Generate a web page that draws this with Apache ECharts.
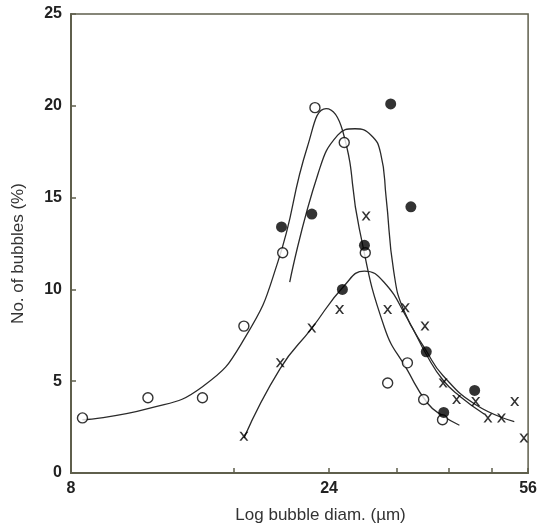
<!DOCTYPE html>
<html>
<head>
<meta charset="utf-8">
<script src="https://cdn.jsdelivr.net/npm/echarts@6/dist/echarts.min.js"></script>
<style>html,body{margin:0;padding:0;background:#fff}#c{width:540px;height:529px}</style>
</head>
<body>
<div id="c"></div>
<script>
// Tick labels (diameters, µm)
const xTickDiam = [8, 16, 24, 32, 40, 48, 56];
const xLabelDiam = [8, 24, 56];

// Open circles
const openDiam = [8.4, 11.1, 14.0, 16.7, 19.7, 22.6, 25.6, 28.0, 30.8, 33.5, 35.9, 38.9];
const openPct  = [3.0, 4.1, 4.1, 8.0, 12.0, 19.9, 18.0, 12.0, 4.9, 6.0, 4.0, 2.9];

// Filled circles
const fillDiam = [19.6, 22.3, 25.4, 27.9, 31.2, 34.0, 36.3, 39.1, 44.6];
const fillPct  = [13.4, 14.1, 10.0, 12.4, 20.1, 14.5, 6.6, 3.3, 4.5];

// Crosses
const crossDiam = [16.7, 19.5, 22.3, 25.1, 28.1, 30.8, 33.2, 36.1, 39.0, 41.3, 44.8, 47.2, 50.0, 52.9, 55.0];
const crossPct  = [2.0, 6.0, 7.9, 8.9, 14.0, 8.9, 9.0, 8.0, 4.9, 4.0, 3.9, 3.0, 3.0, 3.9, 1.9];

// Fitted curves
const curveOpenDiam = [8.4, 11.1, 14.0, 16.8, 19.3, 21.9, 23.7, 25.45, 27.3, 30.4, 33.5, 36.5, 39.0, 41.8];
const curveOpenPct  = [2.9, 3.5, 4.7, 7.4, 11.5, 17.8, 19.85, 18.6, 13.3, 7.9, 5.6, 3.8, 3.1, 2.6];

const curveFillDiam = [20.3, 22.9, 24.9, 26.8, 28.7, 29.9, 30.6, 31.6, 33.0, 36.4, 39.0, 44.9, 52.8];
const curveFillPct  = [10.4, 16.3, 18.4, 18.75, 18.4, 17.4, 15.0, 11.0, 8.85, 6.6, 5.3, 3.7, 2.8];

const curveCrossDiam = [16.7, 19.5, 22.25, 25.6, 27.9, 30.3, 33.5, 36.4, 39.0, 41.8, 46.5];
const curveCrossPct  = [1.9, 5.7, 7.85, 10.2, 11.0, 10.4, 8.4, 6.4, 5.05, 4.2, 3.2];

const LN = Math.log;
const pairs = (xs, ys) => xs.map((x, i) => [LN(x), ys[i]]);

const ink = '#000';
const axisCol = '#5f5f4c';
const crossPath = 'path://M0,0 L2.2,0 L5,3.6 L7.8,0 L10,0 L6.1,5 L10,10 L7.8,10 L5,6.4 L2.2,10 L0,10 L3.9,5 Z';
const curveStyle = {color: '#2a2a2a', width: 1.3};

const chart = echarts.init(document.getElementById('c'), null, {renderer: 'canvas'});
chart.setOption({
  backgroundColor: '#fff',
  animation: false,
  grid: {left: 71, right: 8, top: 14, bottom: 54, show: true, borderColor: axisCol, borderWidth: 1.5, backgroundColor: 'transparent'},
  xAxis: {
    type: 'value',
    min: LN(8), max: LN(56),
    name: 'Log bubble diam. (µm)',
    nameLocation: 'middle',
    nameGap: 34,
    nameTextStyle: {fontSize: 17, color: '#333', fontFamily: 'Liberation Sans, Arial, sans-serif', padding: [0, 0, 0, 42]},
    splitLine: {show: false},
    axisLine: {show: true, lineStyle: {color: axisCol, width: 2}},
    axisTick: {show: true, inside: true, length: 5, customValues: xTickDiam.map(LN), lineStyle: {color: axisCol, width: 1.5}},
    axisLabel: {
      customValues: xLabelDiam.map(LN),
      formatter: v => String(Math.round(Math.exp(v))),
      fontSize: 16, fontWeight: 'bold', color: '#222', margin: 8,
      fontFamily: 'Liberation Sans, Arial, sans-serif'
    }
  },
  yAxis: {
    type: 'value', min: 0, max: 25, interval: 5,
    name: 'No. of bubbles (%)',
    nameLocation: 'middle',
    nameGap: 44,
    nameRotate: 90,
    nameTextStyle: {fontSize: 17, color: '#333', fontFamily: 'Liberation Sans, Arial, sans-serif', padding: [0, 20, 0, 0]},
    splitLine: {show: false},
    axisLine: {show: true, lineStyle: {color: axisCol, width: 2}},
    axisTick: {show: true, inside: true, length: 5, lineStyle: {color: axisCol, width: 1.5}},
    axisLabel: {fontSize: 16, fontWeight: 'bold', color: '#222', margin: 9, fontFamily: 'Liberation Sans, Arial, sans-serif'}
  },
  series: [
    {type: 'line', data: pairs(curveOpenDiam, curveOpenPct), smooth: 0.5, showSymbol: false, lineStyle: curveStyle, z: 2},
    {type: 'line', data: pairs(curveFillDiam, curveFillPct), smooth: 0.5, showSymbol: false, lineStyle: curveStyle, z: 2},
    {type: 'line', data: pairs(curveCrossDiam, curveCrossPct), smooth: 0.5, showSymbol: false, lineStyle: curveStyle, z: 2},
    {type: 'scatter', data: pairs(openDiam, openPct), symbol: 'circle', symbolSize: 10, itemStyle: {color: '#fff', borderColor: ink, borderWidth: 1.4}, z: 5},
    {type: 'scatter', data: pairs(fillDiam, fillPct), symbol: 'circle', symbolSize: 11, itemStyle: {color: ink}, z: 5},
    {type: 'scatter', data: pairs(crossDiam, crossPct), symbol: crossPath, symbolSize: 9, itemStyle: {color: ink}, z: 5}
  ]
});
</script>
</body>
</html>
